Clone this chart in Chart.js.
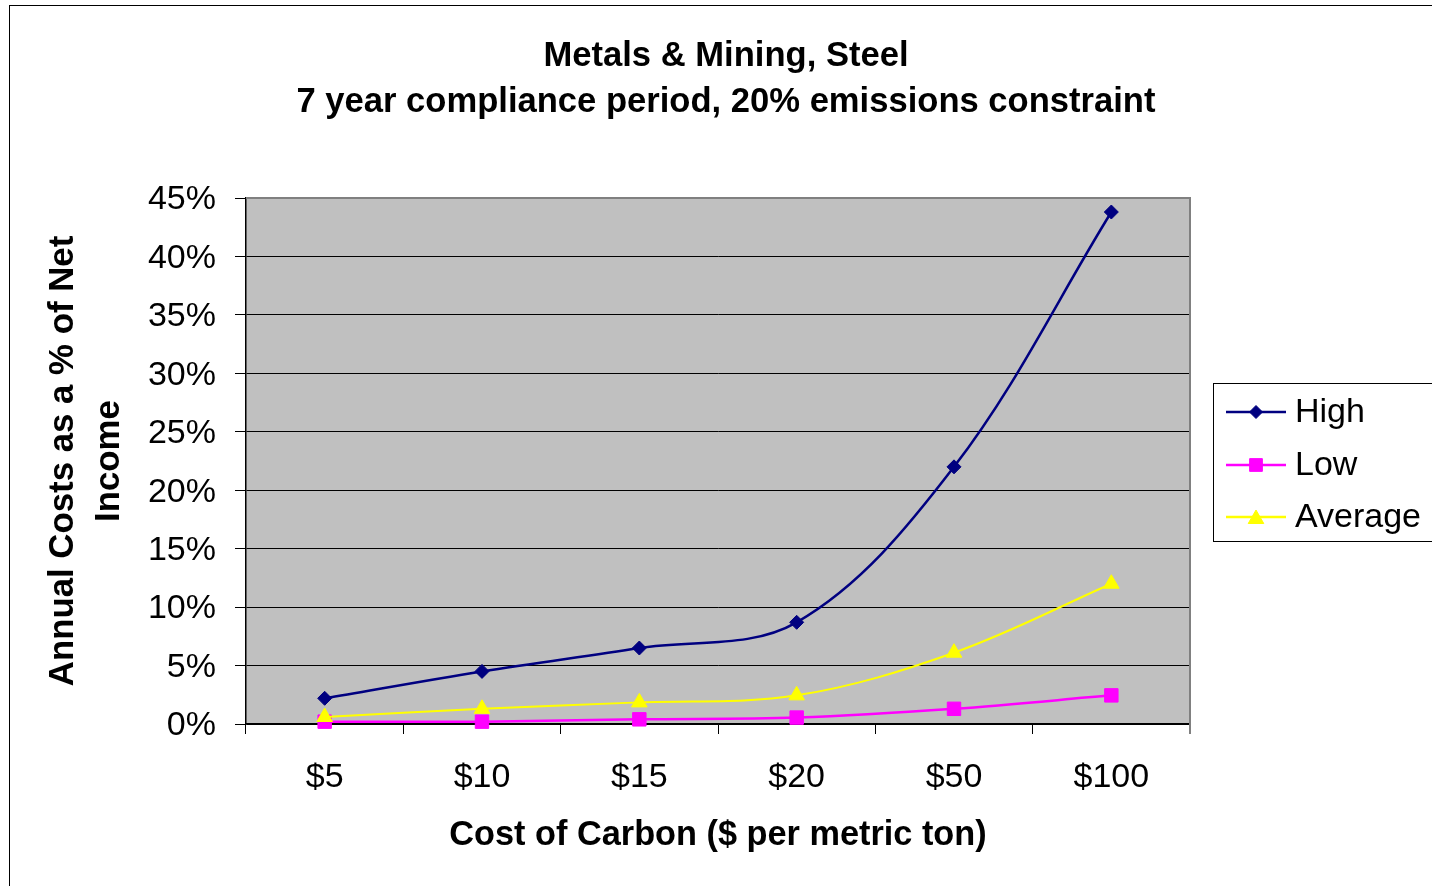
<!DOCTYPE html>
<html>
<head>
<meta charset="utf-8">
<title>Metals &amp; Mining, Steel</title>
<script src="https://cdn.jsdelivr.net/npm/chart.js@4/dist/chart.umd.min.js"></script>
<style>
  html, body { margin: 0; padding: 0; background: #fff; overflow: hidden; }
  #wrap { position: relative; width: 1432px; height: 886px; overflow: hidden; }
  canvas { display: block; }
</style>
</head>
<body>
<div id="wrap"><canvas id="chart" width="1460" height="900"></canvas></div>
<script>
// Carbon price scenarios and annual cost as % of net income
const categories = ['$5', '$10', '$15', '$20', '$50', '$100'];
const highValues = [2.2, 4.5, 6.5, 8.7, 22.0, 43.8];
const lowValues = [0.2, 0.2, 0.4, 0.55, 1.3, 2.45];
const averageValues = [0.6, 1.3, 1.85, 2.45, 6.1, 12.0];
const titleLines = ['Metals & Mining, Steel', '7 year compliance period, 20% emissions constraint'];
const yAxisTitle = ['Annual Costs as a % of Net', 'Income'];
const xAxisTitle = 'Cost of Carbon ($ per metric ton)';

const FONT = '"Liberation Sans", Arial, Helvetica, sans-serif';

// Gray plot background, drawn under the grid
const plotBackground = {
  id: 'plotBackground',
  beforeDraw(chart) {
    const { ctx, chartArea: a } = chart;
    ctx.save();
    ctx.fillStyle = '#C0C0C0';
    ctx.fillRect(a.left, a.top, a.right - a.left, a.bottom - a.top);
    ctx.restore();
  }
};

// Gray top/right edge of the plot area plus the outer frame
const frames = {
  id: 'frames',
  beforeDatasetsDraw(chart) {
    const { ctx, chartArea: a } = chart;
    ctx.save();
    ctx.strokeStyle = '#808080';
    ctx.lineWidth = 2;
    ctx.beginPath();
    ctx.moveTo(a.left, a.top);
    ctx.lineTo(a.right, a.top);
    ctx.lineTo(a.right, a.bottom + 10);
    ctx.stroke();
    ctx.restore();
  },
  afterDraw(chart) {
    const { ctx } = chart;
    ctx.save();
    ctx.strokeStyle = '#000';
    ctx.lineWidth = 1;
    ctx.strokeRect(9.5, 5.5, 1440, 890);
    ctx.restore();
  }
};

// Two-line chart title
const chartTitle = {
  id: 'chartTitle',
  afterDraw(chart) {
    const { ctx } = chart;
    ctx.save();
    ctx.fillStyle = '#000';
    ctx.font = 'bold 34.6px ' + FONT;
    ctx.textAlign = 'center';
    ctx.textBaseline = 'middle';
    ctx.fillText(titleLines[0], 726, 56);
    ctx.fillText(titleLines[1], 726, 102);
    ctx.restore();
  }
};

// Boxed legend on the right side
const boxedLegend = {
  id: 'boxedLegend',
  afterDraw(chart) {
    const { ctx } = chart;
    ctx.save();
    ctx.strokeStyle = '#000';
    ctx.lineWidth = 1;
    ctx.strokeRect(1213.5, 383.5, 300, 158);
    const rows = [412, 465, 517];
    chart.data.datasets.forEach((ds, i) => {
      const y = rows[i];
      ctx.strokeStyle = ds.borderColor;
      ctx.lineWidth = 2.5;
      ctx.beginPath();
      ctx.moveTo(1226, y);
      ctx.lineTo(1286, y);
      ctx.stroke();
      ctx.fillStyle = ds.pointBackgroundColor;
      ctx.strokeStyle = ds.pointBorderColor;
      ctx.lineWidth = 1;
      Chart.helpers.drawPoint(ctx, {
        pointStyle: ds.pointStyle,
        radius: ds.legendRadius,
        rotation: 0,
        borderWidth: 1
      }, 1256, ds.pointStyle === 'triangle' ? y + 2 : y);
      ctx.fillStyle = '#000';
      ctx.font = '34px ' + FONT;
      ctx.textAlign = 'left';
      ctx.textBaseline = 'middle';
      ctx.fillText(ds.label, 1295, y + 1);
    });
    ctx.restore();
  }
};

const common = {
  fill: false,
  borderWidth: 2.5,
  tension: 0.35,
  pointBorderWidth: 1,
  clip: false
};

new Chart(document.getElementById('chart'), {
  type: 'line',
  data: {
    labels: categories,
    datasets: [
      Object.assign({}, common, {
        label: 'High',
        data: highValues,
        borderColor: '#000080',
        pointBackgroundColor: '#000080',
        pointBorderColor: '#000080',
        pointStyle: 'rectRot',
        pointRadius: 7,
        legendRadius: 6.5,
        order: 2
      }),
      Object.assign({}, common, {
        label: 'Low',
        data: lowValues,
        borderColor: '#FF00FF',
        pointBackgroundColor: '#FF00FF',
        pointBorderColor: '#FF00FF',
        pointStyle: 'rect',
        pointRadius: 9.5,
        legendRadius: 9,
        order: 1
      }),
      Object.assign({}, common, {
        label: 'Average',
        data: averageValues,
        borderColor: '#FFFF00',
        borderWidth: 2,
        pointBackgroundColor: '#FFFF00',
        pointBorderColor: '#FFFF00',
        pointStyle: 'triangle',
        pointRadius: 9,
        legendRadius: 9,
        order: 0
      })
    ]
  },
  options: {
    responsive: false,
    animation: false,
    events: [],
    layout: { padding: { left: 0, top: 198, right: 270, bottom: 26 } },
    plugins: {
      legend: { display: false },
      title: { display: false },
      tooltip: { enabled: false }
    },
    scales: {
      x: {
        type: 'category',
        offset: true,
        grid: {
          display: true,
          offset: true,
          drawOnChartArea: false,
          drawTicks: true,
          tickLength: 10,
          color: '#000',
          lineWidth: 1
        },
        border: { display: true, color: '#000', width: 1.5 },
        ticks: {
          color: '#000',
          padding: 23,
          maxRotation: 0,
          autoSkip: false,
          font: { family: FONT, size: 34, lineHeight: 1.2 }
        },
        title: {
          display: true,
          text: xAxisTitle,
          color: '#000',
          padding: { top: 0, bottom: 18 },
          font: { family: FONT, size: 34.3, weight: 'bold', lineHeight: 1.2 }
        },
        afterFit(scale) { scale.height = 150; }
      },
      y: {
        min: 0,
        max: 45,
        grid: {
          display: true,
          drawOnChartArea: true,
          drawTicks: true,
          tickLength: 11,
          tickColor: '#000',
          color: (c) => (c.tick && c.tick.value === 45) ? 'rgba(0,0,0,0)' : '#000',
          lineWidth: 1
        },
        border: { display: true, color: '#000', width: 1.5 },
        ticks: {
          stepSize: 5,
          color: '#000',
          padding: 19,
          labelOffset: 2,
          font: { family: FONT, size: 34, lineHeight: 1.2 },
          callback: (v) => v + '%'
        },
        title: {
          display: true,
          text: yAxisTitle,
          color: '#000',
          padding: { top: 40, bottom: 0 },
          font: { family: FONT, size: 34.8, weight: 'bold', lineHeight: 46 / 34.8 }
        },
        afterFit(scale) { scale.width = 246; }
      }
    }
  },
  plugins: [plotBackground, frames, chartTitle, boxedLegend]
});
</script>
</body>
</html>
